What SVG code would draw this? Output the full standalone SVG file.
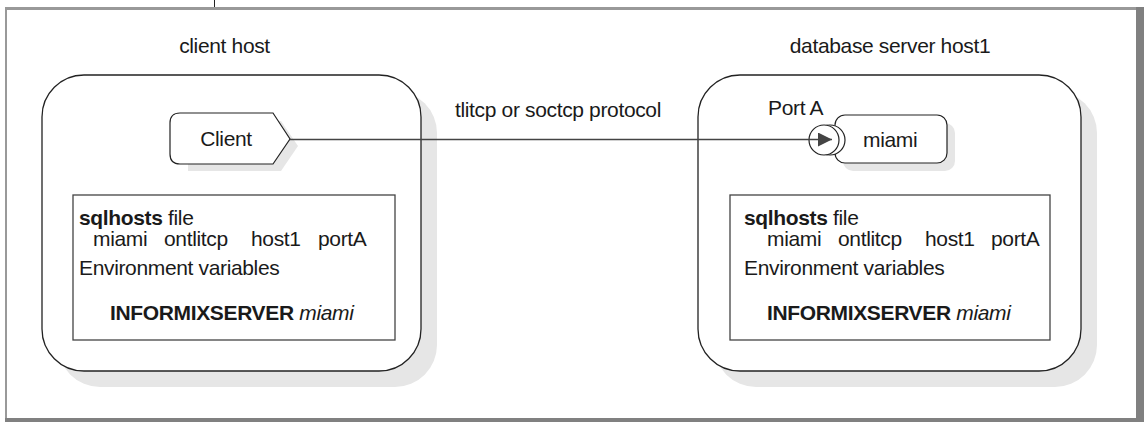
<svg xmlns="http://www.w3.org/2000/svg" width="1144" height="422" viewBox="0 0 1144 422">
  <style>
    text { font-family: "Liberation Sans", Arial, sans-serif; font-size: 21px; letter-spacing: -0.35px; fill: #1a1a1a; }
    .b { font-weight: bold; }
    .i { font-style: italic; }
    .host { fill: #fff; stroke: #222; stroke-width: 1.3; }
    .shadow { fill: #e6e6e6; stroke: none; }
    .file { fill: #fff; stroke: #444; stroke-width: 1.3; }
    .node { fill: #fff; stroke: #222; stroke-width: 1.2; }
    .link { stroke: #444; stroke-width: 1.5; fill: none; }
  </style>
  <defs>
    <marker id="arrow" markerWidth="14" markerHeight="14" refX="14" refY="7" orient="auto" markerUnits="userSpaceOnUse">
      <path d="M0,0 L14,7 L0,14 Z" fill="#444"/>
    </marker>
  </defs>

  <!-- page frame -->
  <g id="frame">
    <rect x="0" y="0" width="1144" height="422" fill="#fff"/>
    <line x1="214.5" y1="0" x2="214.5" y2="8" stroke="#222" stroke-width="1"/>
    <rect x="5" y="7" width="1131" height="3" fill="#999"/>
    <rect x="5" y="7" width="2" height="411" fill="#999"/>
    <rect x="1136" y="7" width="8" height="415" fill="#808080"/>
    <rect x="5" y="418" width="1139" height="4" fill="#808080"/>
  </g>

  <!-- client host -->
  <g id="client-host">
    <text x="224.5" y="53" text-anchor="middle">client host</text>
    <rect class="shadow" x="58" y="91" width="379" height="296" rx="42"/>
    <rect class="host" x="42" y="75" width="379" height="296" rx="42"/>
  </g>

  <g id="client">
    <path class="shadow" d="M188,121 H281 L298,146 L281,171 H188 Z"/>
    <path class="node" d="M180,113 H273 L290,139 L273,164 H180 Q170,164 170,154 V123 Q170,113 180,113 Z"/>
    <text x="226" y="146" text-anchor="middle">Client</text>
  </g>

  <g id="client-sqlhosts">
    <rect class="file" x="73" y="195" width="322" height="145"/>
    <text x="79" y="225"><tspan class="b">sqlhosts</tspan> file</text>
    <text y="246"><tspan x="93">miami</tspan><tspan x="164">ontlitcp</tspan><tspan x="251">host1</tspan><tspan x="318">portA</tspan></text>
    <text x="79" y="275">Environment variables</text>
    <text x="110" y="320"><tspan class="b">INFORMIXSERVER</tspan> <tspan class="i">miami</tspan></text>
  </g>

  <!-- database server host -->
  <g id="server-host">
    <text x="890" y="53" text-anchor="middle">database server host1</text>
    <rect class="shadow" x="714" y="91" width="383" height="296" rx="42"/>
    <rect class="host" x="698" y="75" width="383" height="296" rx="42"/>
  </g>

  <g id="server-miami">
    <rect class="shadow" x="843" y="123" width="112" height="48" rx="10"/>
    <rect class="node" x="835" y="115" width="112" height="48" rx="10"/>
    <text x="863" y="147">miami</text>
    <text x="768" y="115">Port A</text>
  </g>

  <g id="port-a">
    <circle class="node" cx="830" cy="140" r="15"/>
    <circle class="node" cx="824" cy="140" r="15"/>
  </g>

  <g id="server-sqlhosts">
    <rect class="file" x="730" y="195" width="320" height="145"/>
    <text x="744" y="225"><tspan class="b">sqlhosts</tspan> file</text>
    <text y="246"><tspan x="767">miami</tspan><tspan x="838">ontlitcp</tspan><tspan x="925">host1</tspan><tspan x="991">portA</tspan></text>
    <text x="744" y="275">Environment variables</text>
    <text x="767" y="320"><tspan class="b">INFORMIXSERVER</tspan> <tspan class="i">miami</tspan></text>
  </g>

  <!-- connectors -->
  <g id="connectors">
    <line class="link" x1="290" y1="139.5" x2="832" y2="139.5" marker-end="url(#arrow)"/>
    <text x="455" y="117">tlitcp or soctcp protocol</text>
  </g>
</svg>
